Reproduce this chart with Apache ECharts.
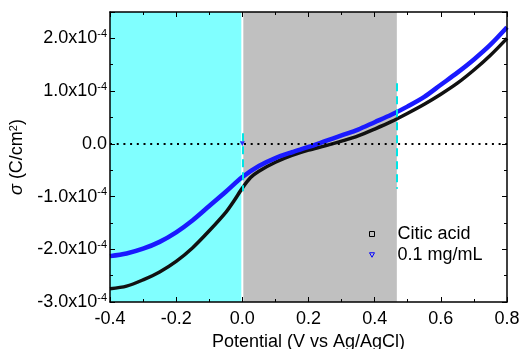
<!DOCTYPE html>
<html>
<head>
<meta charset="utf-8">
<script src="https://cdn.jsdelivr.net/npm/echarts@6/dist/echarts.min.js"></script>
<style>
  html, body { margin: 0; padding: 0; background: #fff; }
  #chart { width: 519px; height: 349px; }
</style>
</head>
<body>
<div id="chart"></div>
<script>
// sigma values are in units of 1e-4 C/cm^2
const citicPotential = [-0.4, -0.35, -0.3, -0.25, -0.2, -0.15, -0.1, -0.05, -0.025, 0, 0.025, 0.05, 0.1, 0.15, 0.2, 0.25, 0.3, 0.35, 0.4, 0.45, 0.5, 0.55, 0.6, 0.65, 0.7, 0.75, 0.8];
const citicSigma = [-2.75, -2.70, -2.58, -2.43, -2.23, -1.97, -1.65, -1.30, -1.08, -0.84, -0.64, -0.52, -0.35, -0.22, -0.12, -0.04, 0.05, 0.15, 0.28, 0.42, 0.58, 0.75, 0.94, 1.15, 1.40, 1.68, 2.00];
const mgPotential = [-0.4, -0.35, -0.3, -0.25, -0.2, -0.15, -0.1, -0.05, 0, 0.05, 0.1, 0.15, 0.2, 0.25, 0.3, 0.35, 0.4, 0.45, 0.5, 0.55, 0.6, 0.65, 0.7, 0.75, 0.8];
const mgSigma = [-2.13, -2.08, -1.99, -1.86, -1.68, -1.45, -1.18, -0.91, -0.63, -0.42, -0.27, -0.16, -0.06, 0.05, 0.16, 0.27, 0.41, 0.55, 0.71, 0.89, 1.12, 1.35, 1.60, 1.88, 2.21];
const strayPoint = [0, 0];
const cyanRange = [-0.4, 0];
const grayRange = [0, 0.467];
const dashedMarks = [[0, 0.2, -0.9], [0.467, 1.15, -0.85]];
const xTicks = [-0.4, -0.2, 0.0, 0.2, 0.4, 0.6, 0.8];
const yTicks = [-3, -2, -1, 0, 1, 2];

const chart = echarts.init(document.getElementById('chart'));
const font = 'Liberation Sans, Arial, sans-serif';

const zip = (xs, ys) => xs.map((x, i) => [x, ys[i]]);

function yLabel(v) {
  const r = Math.round(v * 10) / 10;
  if (!yTicks.includes(r) || Math.abs(v - r) > 1e-6) return '';
  if (r === 0) return '{a|0.0}';
  return '{a|' + r.toFixed(1) + 'x10}{s|-4}';
}

const axisCommon = {
  axisLine: { onZero: false, lineStyle: { color: '#000', width: 1.5 } },
  axisTick: { inside: true, length: 5, lineStyle: { color: '#000', width: 1 } },
  minorTick: { show: true, splitNumber: 2, length: 3, lineStyle: { color: '#000', width: 1 } },
  splitLine: { show: false },
  z: 10
};

chart.setOption({
  animation: false,
  backgroundColor: '#fff',
  grid: { left: 110, right: 12, top: 12, bottom: 47, outerBoundsMode: 'none' },
  legend: {
    orient: 'vertical',
    left: 364,
    top: 220,
    itemWidth: 5,
    itemHeight: 5,
    itemGap: 3,
    textStyle: { fontFamily: font, fontSize: 18, color: '#000', padding: [0, 0, 0, 18] },
    data: [
      { name: 'Citic acid', icon: 'rect', itemStyle: { color: 'transparent', borderColor: '#000', borderWidth: 1 } },
      { name: '0.1 mg/mL', icon: 'path://M0,0L10,0L5,9Z', itemStyle: { color: 'transparent', borderColor: '#0000ff', borderWidth: 1 } }
    ]
  },
  xAxis: [
    Object.assign({}, axisCommon, {
      type: 'value', min: -0.4, max: 0.8, interval: 0.2,
      name: 'Potential (V vs Ag/AgCl)', nameLocation: 'middle', nameGap: 31,
      nameTextStyle: { fontFamily: font, fontSize: 18, color: '#000' },
      axisLabel: { fontFamily: font, fontSize: 18, color: '#000', margin: 8,
        formatter: v => { const r = Math.round(v * 10) / 10; return xTicks.includes(r) ? r.toFixed(1) : ''; } }
    }),
    Object.assign({}, axisCommon, {
      type: 'value', min: -0.4, max: 0.8, interval: 0.2, position: 'top',
      axisLabel: { show: false }
    })
  ],
  yAxis: [
    Object.assign({}, axisCommon, {
      type: 'value', min: -3, max: 2.5, interval: 1,
      name: '{i|σ} (C/cm{s|2})', nameLocation: 'middle', nameRotate: 90, nameGap: 72,
      nameTextStyle: { fontFamily: font, fontSize: 18, color: '#000',
        rich: { i: { fontFamily: font, fontSize: 18, fontStyle: 'italic' }, s: { fontFamily: font, fontSize: 11, verticalAlign: 'top' } } },
      axisLabel: { margin: 3, formatter: yLabel,
        rich: {
          a: { fontFamily: font, fontSize: 18, color: '#000', lineHeight: 20 },
          s: { fontFamily: font, fontSize: 11, color: '#000', verticalAlign: 'top', lineHeight: 11 }
        } }
    }),
    Object.assign({}, axisCommon, {
      type: 'value', min: -3, max: 2.5, interval: 1, position: 'right',
      axisLabel: { show: false }
    })
  ],
  series: [
    {
      name: 'Citic acid',
      type: 'line',
      data: zip(citicPotential, citicSigma),
      smooth: 0.3,
      showSymbol: false,
      lineStyle: { color: '#111', width: 3.5 },
      itemStyle: { color: '#000' },
      z: 3,
      markArea: {
        silent: true,
        data: [
          [{ xAxis: cyanRange[0], itemStyle: { color: '#80ffff' } }, { xAxis: cyanRange[1] - 0.003 }],
          [{ xAxis: grayRange[0] + 0.003, itemStyle: { color: '#c0c0c0' } }, { xAxis: grayRange[1] }]
        ]
      },
      markLine: {
        silent: true,
        symbol: 'none',
        label: { show: false },
        lineStyle: { color: '#00e5e5', width: 2, type: [8, 5] },
        data: dashedMarks.map(d => [{ coord: [d[0], d[1]] }, { coord: [d[0], d[2]] }])
      }
    },
    {
      name: '0.1 mg/mL',
      type: 'line',
      data: zip(mgPotential, mgSigma),
      smooth: 0.3,
      showSymbol: false,
      lineStyle: { color: '#1a1aff', width: 4.5 },
      itemStyle: { color: '#0000ff' },
      z: 4,
      markLine: {
        silent: true,
        symbol: 'none',
        label: { show: false },
        lineStyle: { color: '#000', width: 2, type: [2, 4.7] },
        data: [{ yAxis: 0 }]
      }
    },
    {
      name: 'stray',
      type: 'scatter',
      data: [strayPoint],
      symbol: 'triangle',
      symbolRotate: 180,
      symbolSize: 5,
      itemStyle: { color: '#0000ff' },
      z: 5
    }
  ]
});
</script>
</body>
</html>
